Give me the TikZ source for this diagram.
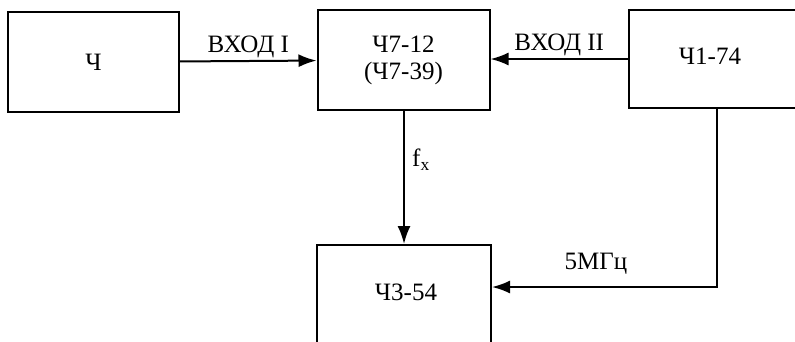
\documentclass[tikz,border=0pt]{standalone}
\usepackage{fontspec}
\setmainfont{Liberation Serif}
\usetikzlibrary{arrows.meta,positioning}
\newcommand{\lw}{2pt}
\newcommand{\fsize}{\fontsize{25}{30}\selectfont}

\begin{document}
\begin{tikzpicture}[x=1pt,y=-1pt]
	\tikzset{blk/.style = {draw, line width=\lw, minimum width=172pt, minimum height=100pt, inner sep=0pt, font=\fsize},
		sig/.style = {line width=\lw, -{Latex[length=18pt,width=13pt]}},
		lbl/.style = {font=\fsize, inner sep=2pt}}
	\useasboundingbox (0,0) rectangle (795,341);
	\clip (0,0) rectangle (795,341);
	%\draw[help lines] (0,0) grid[step=50] (795,341);
	\node[blk, minimum width=171pt] (ch) at (93.5,62) {Ч};
	\node[blk, align=center] (ch712) at (403.5,60) {Ч7-12\\[-3pt](Ч7-39)};
	\node[blk, minimum width=168pt, minimum height=98pt] (ch174) at (713,59) {};
	\node[lbl] (t174) at (710,56) {Ч1-74};
	\node[blk, minimum width=174pt] (ch354) at (404,295) {};
	\node[lbl] (t354) at (406,292) {Ч3-54};
	\coordinate (turn) at (717,287);

	\draw[sig] (ch) -- node[lbl, above] {ВХОД I} (ch712);
	\draw[sig] (ch174.west) -- node[lbl, above] {ВХОД II} (ch712.east |- ch174.west);
	\draw[sig] (ch712.south -| 404,0) -- (ch354.north -| 404,0);
	\node[lbl] (fx) at (421,160) {f\textsubscript{x}};
	\draw[sig] (ch174.south -| turn) -- (turn) -- (ch354.east |- turn);
	\node[lbl] (mhz) at (596,264) {5МГц};
\end{tikzpicture}
\end{document}
